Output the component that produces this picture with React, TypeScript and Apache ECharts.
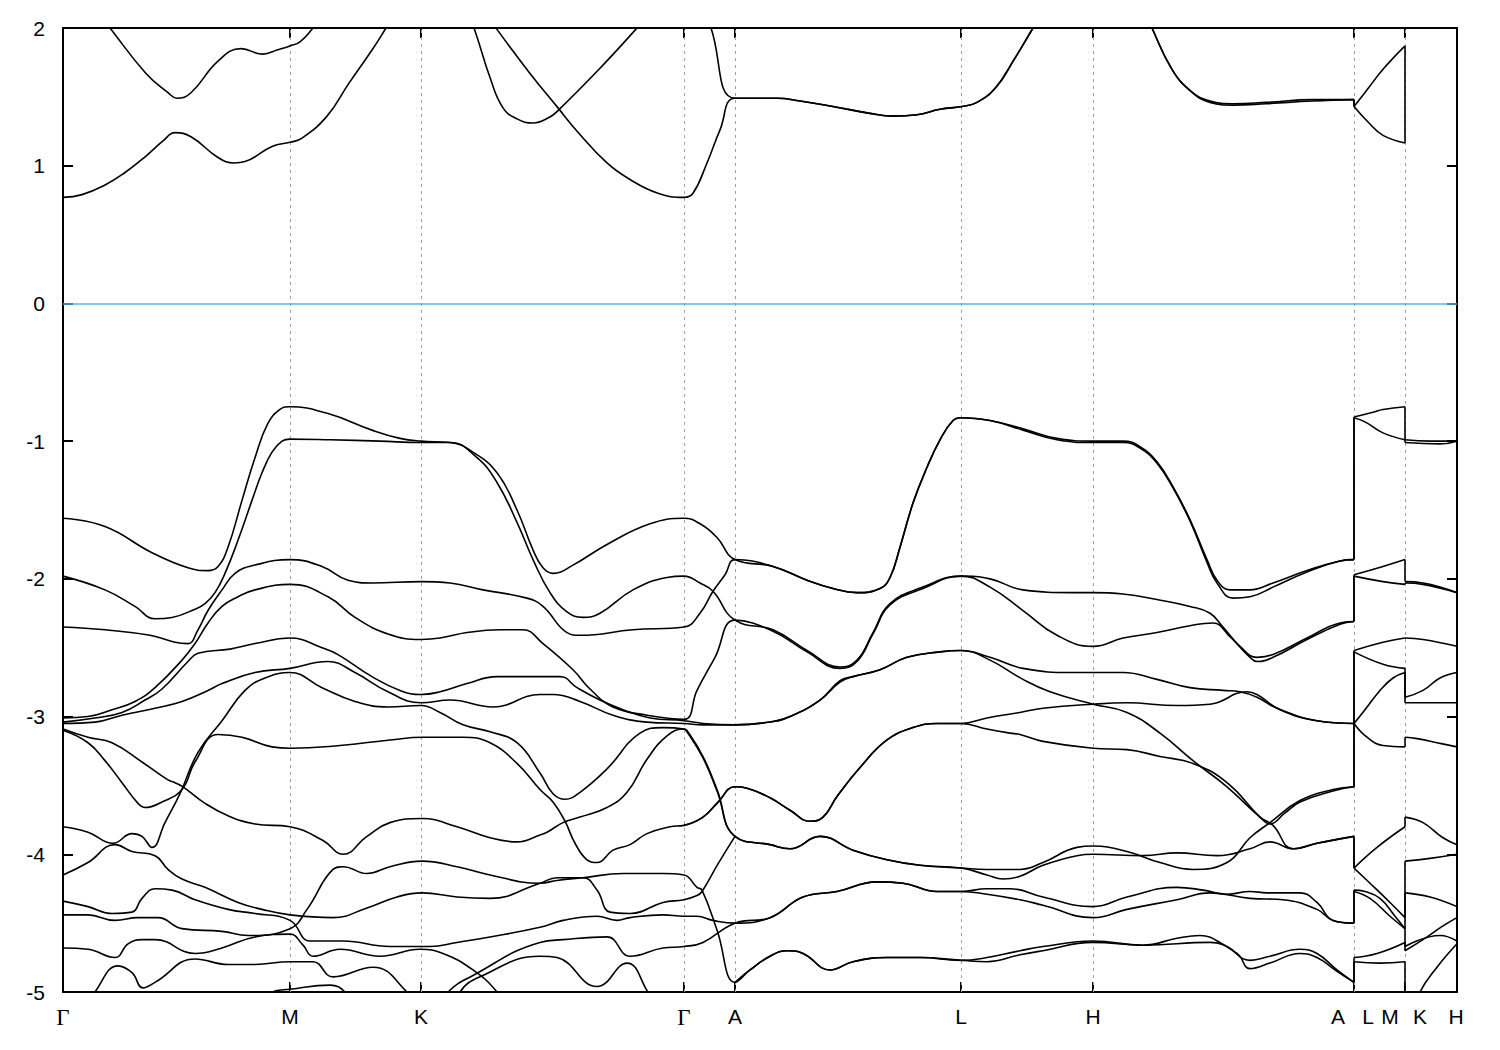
import React, { useEffect, useRef } from 'react';
import * as echarts from 'echarts';

// k-path: Γ M K Γ A L H A|L M|K H  (path distance, arbitrary units)
const tickPositions = [0, 227, 358, 621, 672, 898, 1030, 1291, 1342, 1394];
const guidePositions = [227, 358, 621, 672, 898, 1030, 1291, 1342];
const labelPositions = [0, 227, 358, 621, 672, 898, 1030, 1275, 1305, 1327, 1357, 1393];
const labelNames = ['Γ', 'M', 'K', 'Γ', 'A', 'L', 'H', 'A', 'L', 'M', 'K', 'H'];
const energyMin = -5;
const energyMax = 2;

// ---- conduction bands (eV) ----
const cb1 = [[0,0.77],[19,0.79],[42,0.86],[60,0.94],[83,1.07],[100,1.18],[112,1.24],[128,1.21],[155,1.06],[171,1.02],[182,1.03],[209,1.14],[227,1.17],[239,1.20],[264,1.36],[286,1.60],[309,1.84],[323,2.0],[327,2.05]];
const cb2 = [[42,2.05],[47,2.0],[83,1.67],[105,1.53],[114,1.49],[128,1.53],[155,1.76],[178,1.85],[200,1.81],[214,1.84],[227,1.87],[237,1.90],[250,2.0],[255,2.05]];
const cb3 = [[407,2.05],[411,2.0],[427,1.64],[440,1.42],[454,1.34],[470,1.31],[486,1.35],[495,1.40],[536,1.70],[574,2.0],[579,2.05]];
const cb4 = [[429,2.05],[433,2.0],[467,1.67],[495,1.42],[513,1.26],[544,1.02],[567,0.90],[595,0.80],[621,0.77],[630,0.80],[644,1.02],[657,1.26],[672,1.49],[714,1.49],[737,1.47],[770,1.43],[807,1.38],[830,1.36],[854,1.37],[877,1.41],[899,1.43],[914,1.46],[933,1.57],[951,1.77],[970,2.0],[974,2.05]];
const cb5 = [[645,2.05],[648,2.0],[672,1.49],[714,1.49],[737,1.47],[770,1.43],[807,1.38],[830,1.36],[854,1.37],[877,1.41],[899,1.43],[914,1.46],[933,1.57],[951,1.77],[970,2.0],[974,2.05]];
const cb6 = [[1087,2.05],[1089,2.0],[1109,1.70],[1128,1.54],[1147,1.47],[1170,1.45],[1203,1.46],[1250,1.48],[1291,1.48],[1291,1.43],[1305,1.56],[1320,1.70],[1342,1.87]];
const cb7 = [[1087,2.05],[1089,2.0],[1109,1.70],[1128,1.54],[1147,1.46],[1170,1.44],[1203,1.45],[1250,1.47],[1291,1.48],[1291,1.43],[1306,1.31],[1320,1.22],[1342,1.165],[1342,1.87]];

// ---- valence bands (eV) ----
const vb01 = [[0,-1.56],[42,-1.62],[89,-1.81],[125,-1.92],[145,-1.94],[155,-1.91],[165,-1.77],[179,-1.43],[192,-1.12],[205,-0.87],[217,-0.77],[227,-0.75],
  [265,-0.80],[309,-0.92],[337,-0.98],[358,-1.0],
  [387,-1.01],[410,-1.08],[434,-1.23],[454,-1.50],[470,-1.79],[480,-1.92],[490,-1.96],[510,-1.90],[544,-1.75],[587,-1.60],[621,-1.56],
  [637,-1.60],[654,-1.70],[672,-1.86],
  [710,-1.91],[744,-2.01],[770,-2.07],[794,-2.10],[817,-2.07],[827,-1.99],[837,-1.77],[850,-1.45],[864,-1.19],[877,-0.99],[890,-0.85],[898,-0.83],
  [927,-0.85],[960,-0.91],[994,-0.98],[1030,-1.0],
  [1060,-1.0],[1077,-1.04],[1094,-1.15],[1110,-1.33],[1127,-1.57],[1144,-1.86],[1154,-2.01],[1167,-2.08],[1187,-2.08],[1210,-2.03],[1244,-1.94],[1277,-1.87],[1291,-1.86],
  [1291,-0.825],[1310,-0.79],[1320,-0.77],[1342,-0.75],
  [1342,-0.99],[1367,-1.0],[1394,-1.0]];
const vb02 = [[0,-1.98],[42,-2.08],[72,-2.20],[92,-2.29],[109,-2.28],[132,-2.22],[142,-2.18],[152,-2.10],[162,-1.96],[175,-1.72],[189,-1.43],[199,-1.23],[209,-1.08],[219,-1.0],[227,-0.985],
  [267,-0.99],[317,-1.0],[358,-1.01],
  [387,-1.01],[414,-1.12],[434,-1.30],[454,-1.59],[470,-1.86],[487,-2.10],[504,-2.24],[520,-2.28],[537,-2.25],[570,-2.08],[604,-1.99],[621,-1.98],
  [637,-2.03],[650,-2.09],[672,-2.30],
  [710,-2.37],[744,-2.52],[777,-2.64],[794,-2.59],[810,-2.39],[827,-2.18],[860,-2.06],[898,-1.98],
  [927,-2.0],[960,-2.08],[1010,-2.10],[1030,-2.10],
  [1060,-2.11],[1094,-2.15],[1127,-2.20],[1147,-2.25],[1160,-2.35],[1177,-2.49],[1194,-2.57],[1210,-2.55],[1244,-2.43],[1277,-2.32],[1291,-2.31],
  [1291,-1.97],[1320,-1.91],[1342,-1.86],
  [1342,-2.02],[1360,-2.03],[1394,-2.10]];
const vb03 = [[0,-2.35],[42,-2.37],[87,-2.41],[112,-2.46],[125,-2.47],[135,-2.37],[145,-2.23],[159,-2.08],[172,-1.96],[192,-1.90],[227,-1.86],
  [259,-1.91],[285,-2.01],[309,-2.03],[358,-2.02],
  [387,-2.03],[420,-2.08],[464,-2.14],[480,-2.20],[504,-2.39],[517,-2.41],[570,-2.37],[621,-2.35],
  [637,-2.25],[650,-2.09],[662,-1.97],[672,-1.86],
  [710,-1.91],[744,-2.01],[770,-2.07],[794,-2.10],[817,-2.07],[827,-1.99],[837,-1.77],[850,-1.45],[864,-1.19],[877,-0.99],[890,-0.85],[898,-0.83],
  [927,-0.85],[960,-0.92],[994,-0.99],[1030,-1.01],
  [1060,-1.01],[1077,-1.05],[1094,-1.16],[1110,-1.34],[1127,-1.58],[1144,-1.88],[1154,-2.03],[1170,-2.14],[1187,-2.13],[1210,-2.06],[1244,-1.95],[1277,-1.87],[1291,-1.86],
  [1291,-0.83],[1302,-0.86],[1320,-0.94],[1342,-0.99],
  [1342,-1.01],[1377,-1.02],[1394,-1.0]];
const vb04 = [[0,-3.01],[25,-3.00],[49,-2.95],[72,-2.89],[92,-2.79],[119,-2.59],[132,-2.47],[145,-2.32],[159,-2.20],[175,-2.13],[192,-2.08],[227,-2.04],
  [265,-2.13],[292,-2.28],[325,-2.40],[358,-2.44],
  [377,-2.43],[404,-2.39],[437,-2.37],[460,-2.37],[480,-2.47],[510,-2.66],[527,-2.80],[550,-2.93],[584,-2.99],[621,-3.02],
  [634,-2.81],[652,-2.57],[672,-2.30],
  [710,-2.38],[744,-2.53],[777,-2.65],[794,-2.60],[810,-2.40],[827,-2.19],[860,-2.07],[898,-1.98],
  [927,-2.06],[960,-2.23],[994,-2.41],[1030,-2.49],
  [1060,-2.43],[1094,-2.39],[1127,-2.34],[1150,-2.32],[1167,-2.42],[1187,-2.57],[1194,-2.60],[1210,-2.57],[1244,-2.44],[1277,-2.33],[1291,-2.31],
  [1291,-1.98],[1320,-2.02],[1342,-2.04],
  [1342,-2.03],[1360,-2.04],[1394,-2.10]];
const vb05 = [[0,-3.04],[32,-3.01],[59,-2.97],[82,-2.88],[99,-2.80],[125,-2.60],[135,-2.54],[167,-2.51],[192,-2.47],[227,-2.43],
  [259,-2.50],[275,-2.55],[309,-2.71],[337,-2.81],[358,-2.84],
  [377,-2.82],[404,-2.76],[434,-2.71],[497,-2.71],[514,-2.79],[537,-2.88],[560,-2.95],[587,-3.01],[621,-3.03],
  [640,-3.05],[672,-3.06],
  [707,-3.04],[727,-3.00],[757,-2.88],[777,-2.75],[790,-2.71],[817,-2.66],[844,-2.57],[877,-2.53],[898,-2.52],
  [927,-2.57],[960,-2.65],[1010,-2.68],[1030,-2.68],
  [1060,-2.68],[1094,-2.73],[1127,-2.79],[1160,-2.81],[1177,-2.82],[1194,-2.86],[1214,-2.94],[1254,-3.03],[1291,-3.05],
  [1291,-2.52],[1320,-2.46],[1342,-2.43],
  [1342,-2.43],[1360,-2.44],[1394,-2.49]];
const vb06 = [[0,-3.05],[32,-3.04],[59,-2.99],[92,-2.94],[119,-2.89],[145,-2.81],[159,-2.76],[192,-2.68],[227,-2.65],
  [265,-2.60],[292,-2.68],[325,-2.82],[358,-2.90],
  [387,-2.88],[430,-2.93],[477,-2.84],[490,-2.84],[517,-2.89],[550,-2.99],[584,-3.04],[621,-3.05],
  [640,-3.06],[672,-3.06],
  [707,-3.04],[727,-3.00],[757,-2.88],[777,-2.74],[790,-2.71],[817,-2.66],[844,-2.57],[877,-2.53],[898,-2.52],
  [927,-2.59],[960,-2.73],[987,-2.82],[1030,-2.91],
  [1064,-2.97],[1097,-3.12],[1130,-3.32],[1164,-3.51],[1197,-3.73],[1210,-3.79],[1230,-3.96],[1254,-3.92],[1291,-3.87],
  [1291,-4.10],[1314,-3.95],[1342,-3.80],
  [1342,-3.73],[1360,-3.77],[1380,-3.88],[1394,-3.93]];
const vb07 = [[0,-3.09],[25,-3.15],[49,-3.19],[79,-3.33],[105,-3.46],[112,-3.48],[120,-3.51],[142,-3.63],[165,-3.72],[192,-3.78],[227,-3.80],
  [260,-3.90],[280,-4.00],[304,-3.87],[327,-3.77],[359,-3.74],
  [394,-3.80],[427,-3.88],[454,-3.91],[477,-3.86],[484,-3.84],[500,-3.77],[517,-3.73],[544,-3.66],[564,-3.55],[584,-3.31],[604,-3.14],[621,-3.09],
  [624,-3.10],[640,-3.29],[654,-3.53],[672,-3.87],
  [707,-3.93],[727,-3.96],[757,-3.87],[790,-3.97],[824,-4.04],[857,-4.08],[898,-4.10],
  [924,-4.11],[957,-4.11],[980,-4.06],[1014,-3.95],[1030,-3.94],
  [1064,-3.98],[1097,-4.06],[1130,-4.11],[1164,-4.06],[1187,-3.88],[1207,-3.77],[1237,-3.61],[1270,-3.53],[1291,-3.51],
  [1291,-3.05],[1302,-2.95],[1317,-2.81],[1330,-2.72],[1342,-2.68],
  [1342,-2.90],[1394,-2.90]];
const vb08 = [[0,-3.10],[25,-3.19],[42,-3.32],[59,-3.48],[75,-3.63],[82,-3.66],[99,-3.62],[119,-3.53],[132,-3.33],[155,-3.13],[179,-3.15],[209,-3.22],[227,-3.23],
  [277,-3.21],[327,-3.17],[360,-3.15],
  [400,-3.15],[427,-3.19],[454,-3.34],[477,-3.53],[490,-3.62],[502,-3.76],[512,-3.92],[524,-4.04],[534,-4.06],[550,-3.97],[567,-3.93],[584,-3.85],[607,-3.80],[621,-3.79],
  [640,-3.73],[654,-3.63],[672,-3.51],
  [684,-3.52],[707,-3.59],[727,-3.68],[747,-3.76],[760,-3.73],[774,-3.58],[797,-3.37],[824,-3.17],[850,-3.08],[874,-3.05],[898,-3.05],
  [924,-3.01],[957,-2.97],[980,-2.94],[1030,-2.91],
  [1064,-2.90],[1114,-2.92],[1147,-2.91],[1184,-2.82],[1194,-2.84],[1217,-2.95],[1254,-3.03],[1291,-3.05],
  [1291,-2.53],[1320,-2.62],[1342,-2.65],
  [1342,-2.86],[1360,-2.81],[1377,-2.72],[1394,-2.68]];
const vb09 = [[0,-3.80],[25,-3.84],[50,-3.92],[69,-3.85],[79,-3.87],[89,-3.95],[102,-3.77],[117,-3.56],[135,-3.26],[159,-3.03],[182,-2.81],[202,-2.72],[227,-2.68],
  [259,-2.79],[292,-2.89],[325,-2.93],[358,-2.92],
  [377,-2.97],[400,-3.06],[427,-3.11],[454,-3.19],[477,-3.41],[490,-3.56],[502,-3.60],[517,-3.55],[544,-3.38],[577,-3.12],[600,-3.08],[621,-3.09],
  [624,-3.11],[640,-3.30],[654,-3.54],[672,-3.87],
  [707,-3.93],[727,-3.96],[757,-3.87],[790,-3.97],[824,-4.04],[857,-4.08],[898,-4.10],
  [924,-4.15],[940,-4.18],[957,-4.16],[980,-4.08],[1014,-4.01],[1030,-4.00],
  [1080,-4.01],[1114,-3.99],[1154,-4.01],[1187,-3.96],[1207,-3.91],[1230,-3.96],[1254,-3.92],[1291,-3.87],
  [1291,-4.10],[1307,-4.21],[1327,-4.35],[1342,-4.46],
  [1342,-4.05],[1367,-4.03],[1394,-4.00]];
const vb10 = [[621,-3.79],[640,-3.73],[654,-3.63],[672,-3.51],
  [684,-3.52],[707,-3.59],[727,-3.68],[747,-3.76],[760,-3.73],[774,-3.58],[797,-3.37],[824,-3.17],[850,-3.08],[874,-3.05],[898,-3.05],
  [924,-3.09],[947,-3.12],[957,-3.13],[980,-3.18],[1030,-3.23],
  [1064,-3.24],[1097,-3.29],[1130,-3.34],[1164,-3.48],[1197,-3.73],[1207,-3.78],[1222,-3.70],[1237,-3.62],[1270,-3.54],[1291,-3.51],
  [1291,-3.05],[1304,-3.15],[1320,-3.21],[1342,-3.22],
  [1342,-3.15],[1354,-3.16],[1374,-3.19],[1394,-3.22]];
const vb11 = [[0,-4.15],[25,-4.06],[52,-3.93],[69,-3.98],[92,-4.01],[105,-4.11],[119,-4.18],[142,-4.24],[175,-4.35],[199,-4.40],[227,-4.44],
  [270,-4.46],[304,-4.39],[334,-4.31],[359,-4.28],
  [394,-4.31],[427,-4.32],[477,-4.21],[494,-4.17],[520,-4.17],[534,-4.26],[547,-4.42],[567,-4.43],[600,-4.35],[621,-4.33],
  [634,-4.30],[639,-4.27],[655,-4.07],[672,-3.87]];
const vb12 = [[0,-4.34],[25,-4.38],[49,-4.43],[69,-4.42],[79,-4.32],[92,-4.25],[109,-4.26],[132,-4.33],[165,-4.40],[192,-4.43],[227,-4.48],
  [247,-4.63],[280,-4.63],[327,-4.67],[367,-4.67],[394,-4.64],[427,-4.60],[477,-4.53],[500,-4.48],[534,-4.45],[554,-4.48],[567,-4.46],[600,-4.44],[621,-4.45],[634,-4.45],[650,-4.48],[672,-4.50],
  [707,-4.46],[740,-4.31],[774,-4.27],[814,-4.20],[840,-4.21],[874,-4.27],[898,-4.27],
  [924,-4.25],[947,-4.25],[980,-4.31],[1030,-4.38],
  [1064,-4.31],[1114,-4.24],[1140,-4.26],[1164,-4.29],[1187,-4.27],[1204,-4.28],[1237,-4.28],[1254,-4.35],[1270,-4.48],[1291,-4.50],
  [1291,-4.26],[1302,-4.27],[1317,-4.32],[1332,-4.45],[1342,-4.54],
  [1342,-4.28],[1367,-4.31],[1394,-4.38]];
const vb13 = [[0,-4.44],[25,-4.44],[52,-4.48],[75,-4.46],[95,-4.46],[119,-4.54],[159,-4.56],[185,-4.59],[227,-4.54],
  [244,-4.40],[270,-4.11],[280,-4.09],[304,-4.14],[327,-4.09],[359,-4.05],
  [394,-4.09],[427,-4.15],[477,-4.21],[494,-4.19],[520,-4.17],[560,-4.14],[600,-4.14],[621,-4.15],
  [634,-4.24],[639,-4.26],[654,-4.55],[672,-4.93],
  [687,-4.84],[707,-4.74],[724,-4.70],[740,-4.72],[767,-4.84],[790,-4.78],[824,-4.75],[857,-4.75],[898,-4.77],
  [924,-4.75],[957,-4.70],[980,-4.67],[1030,-4.63],
  [1080,-4.66],[1114,-4.61],[1137,-4.59],[1164,-4.67],[1187,-4.77],[1207,-4.74],[1237,-4.69],[1254,-4.72],[1274,-4.84],[1291,-4.93],
  [1291,-4.75],[1314,-4.72],[1342,-4.64],
  [1342,-4.70],[1360,-4.62],[1380,-4.52],[1394,-4.46]];
const vb14 = [[0,-4.68],[25,-4.69],[52,-4.75],[65,-4.65],[79,-4.62],[92,-4.62],[132,-4.72],[159,-4.68],[192,-4.60],[227,-4.58],
  [240,-4.66],[250,-4.74],[277,-4.69],[317,-4.74],[357,-4.69],[380,-4.72],[410,-4.84],[434,-5.0],[440,-5.1]];
const vb15 = [[380,-5.1],[385,-5.0],[410,-4.88],[477,-4.64],[500,-4.62],[544,-4.60],[567,-4.74],[600,-4.68],[621,-4.67],[640,-4.64],[672,-4.50],
  [707,-4.46],[740,-4.31],[774,-4.27],[814,-4.20],[840,-4.21],[874,-4.27],[898,-4.27],
  [924,-4.29],[957,-4.33],[980,-4.37],[1030,-4.46],
  [1064,-4.40],[1114,-4.33],[1147,-4.28],[1187,-4.32],[1220,-4.33],[1254,-4.40],[1270,-4.48],[1291,-4.50],
  [1291,-4.27],[1307,-4.32],[1327,-4.45],[1342,-4.54],
  [1342,-4.67],[1377,-4.59],[1394,-4.63]];
const vb16 = [[394,-5.1],[397,-5.0],[417,-4.89],[477,-4.74],[494,-4.75],[534,-4.96],[564,-4.79],[584,-4.99],[590,-5.1]];
const vb17 = [[25,-5.1],[32,-5.0],[55,-4.81],[69,-4.86],[80,-4.97],[92,-4.93],[132,-4.76],[165,-4.80],[192,-4.80],[227,-4.78],
  [250,-4.78],[270,-4.89],[310,-4.82],[344,-5.0],[350,-5.1]];
const vb18 = [[200,-5.1],[209,-5.0],[227,-4.98],[267,-4.95],[282,-5.0],[287,-5.1]];
const vb19 = [[672,-4.93],
  [687,-4.84],[707,-4.74],[724,-4.70],[740,-4.72],[767,-4.84],[790,-4.78],[824,-4.75],[857,-4.75],[898,-4.77],
  [924,-4.78],[957,-4.73],[980,-4.70],[1030,-4.64],
  [1080,-4.66],[1147,-4.64],[1174,-4.72],[1187,-4.83],[1207,-4.79],[1237,-4.72],[1254,-4.75],[1274,-4.85],[1291,-4.93],
  [1291,-4.78],[1317,-4.79],[1342,-4.78],
  [1342,-5.3],[1357,-5.0],[1374,-4.82],[1394,-4.65]];

const bands = [cb1, cb2, cb3, cb4, cb5, cb6, cb7,
  vb01, vb02, vb03, vb04, vb05, vb06, vb07, vb08, vb09, vb10,
  vb11, vb12, vb13, vb14, vb15, vb16, vb17, vb18, vb19];

const FONT = '"Liberation Sans", Arial, sans-serif';

// split a band into smooth pieces and straight vertical jumps (path discontinuities)
function splitBand(b: number[][]) {
  const pieces: number[][][] = [];
  const jumps: number[][][] = [];
  let cur: number[][] = [b[0]];
  for (let i = 1; i < b.length; i++) {
    if (b[i][0] === b[i - 1][0]) {
      if (cur.length > 1) pieces.push(cur);
      jumps.push([b[i - 1], b[i]]);
      cur = [b[i]];
    } else {
      cur.push(b[i]);
    }
  }
  if (cur.length > 1) pieces.push(cur);
  return { pieces, jumps };
}

export default function App() {
  const ref = useRef<HTMLDivElement>(null);
  useEffect(() => {
    if (!ref.current) return;
    const chart = echarts.init(ref.current, null, { renderer: 'svg' });
    const frame = { show: true, onZero: false, lineStyle: { color: '#000', width: 2 } };
    const lineStyle = { color: '#000', width: 1.6 };
    const series: any[] = [];
    bands.forEach((b) => {
      const { pieces, jumps } = splitBand(b);
      pieces.forEach((p) => series.push({
        type: 'line', data: p, symbol: 'none', showSymbol: false,
        smooth: 0.45, clip: true, silent: true, z: 5, lineStyle,
      }));
      jumps.forEach((j) => series.push({
        type: 'line', data: j, symbol: 'none', showSymbol: false,
        smooth: false, clip: true, silent: true, z: 5, lineStyle,
      }));
    });
    const guideSeries = {
      name: 'guides',
      type: 'line',
      data: [],
      symbol: 'none',
      silent: true,
      z: 1,
      markLine: {
        silent: true,
        symbol: ['none', 'none'],
        animation: false,
        label: { show: false },
        data: [
          ...guidePositions.map((x) => ({ xAxis: x, lineStyle: { color: '#a0a0a0', width: 1, type: [3, 4] } })),
          { yAxis: 0, lineStyle: { color: '#56B4E9', width: 1.5, type: 'solid' } },
        ],
      },
    };
    chart.setOption({
      animation: false,
      backgroundColor: '#fff',
      textStyle: { fontFamily: FONT },
      grid: { left: 63, right: 43, top: 28, bottom: 58, containLabel: false },
      xAxis: [
        {
          type: 'value', min: 0, max: 1394, position: 'bottom',
          axisLine: frame,
          splitLine: { show: false },
          axisTick: { show: true, inside: true, length: 10, customValues: tickPositions, lineStyle: { color: '#000', width: 2 } },
          axisLabel: {
            show: true, customValues: labelPositions, margin: 14, color: '#000', fontSize: 21, fontFamily: FONT,
            formatter: (v: number) => {
              const i = labelPositions.indexOf(Math.round(v));
              const name = i >= 0 ? labelNames[i] : '';
              return name === 'Γ' ? '{g|Γ}' : name;
            },
            rich: { g: { fontFamily: '"Liberation Serif", "Times New Roman", serif', fontSize: 23, color: '#000' } },
          },
        },
        {
          type: 'value', min: 0, max: 1394, position: 'top',
          axisLine: frame,
          splitLine: { show: false },
          axisTick: { show: true, inside: true, length: 10, customValues: tickPositions, lineStyle: { color: '#000', width: 2 } },
          axisLabel: { show: false },
        },
      ],
      yAxis: [
        {
          type: 'value', min: energyMin, max: energyMax, interval: 1, position: 'left',
          axisLine: frame,
          splitLine: { show: false },
          axisTick: { show: true, inside: true, length: 10, lineStyle: { color: '#000', width: 2 } },
          axisLabel: { show: true, margin: 18, color: '#000', fontSize: 21, fontFamily: FONT },
        },
        {
          type: 'value', min: energyMin, max: energyMax, interval: 1, position: 'right',
          axisLine: frame,
          splitLine: { show: false },
          axisTick: { show: true, inside: true, length: 10, lineStyle: { color: '#000', width: 2 } },
          axisLabel: { show: false },
        },
      ],
      series: [guideSeries, ...series],
    });
    return () => chart.dispose();
  }, []);
  return <div ref={ref} style={{ position: 'fixed', left: 0, top: 0, width: 1500, height: 1050, background: '#fff' }} />;
}
